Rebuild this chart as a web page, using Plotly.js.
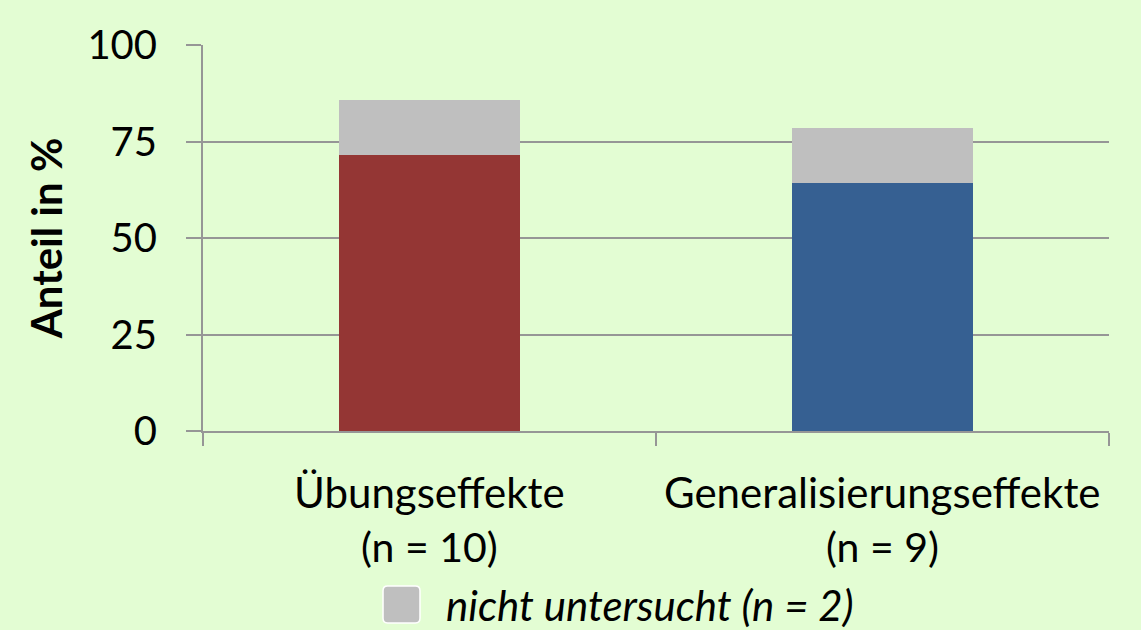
<!DOCTYPE html>
<html>
<head>
<meta charset="utf-8">
<script src="https://cdn.plot.ly/plotly-3.0.1.min.js"></script>
<style>
html,body{margin:0;padding:0;background:#e3fdd3;}
#chart{width:1141px;height:630px;}
</style>
</head>
<body>
<div id="chart"></div>
<script>
// Data
var categories = ["Übungseffekte", "Generalisierungseffekte"];
var sampleSizes = ["(n = 10)", "(n = 9)"];
var untersuchtValues = [71.4, 64.3];
var nichtUntersuchtValues = [14.3, 14.3];
var barColors = ["#943634", "#366092"];
var legendLabel = "nicht untersucht (n = 2)";
var yTickVals = [0, 25, 50, 75, 100];
var yTitle = "Anteil in %";

var FONT = "Lato, 'Open Sans', sans-serif";

var traces = [
  {
    type: "bar",
    x: categories,
    y: untersuchtValues,
    marker: {color: barColors},
    width: 0.4,
    showlegend: false,
    name: "untersucht"
  },
  {
    type: "bar",
    x: categories,
    y: nichtUntersuchtValues,
    marker: {color: "#bfbfbf"},
    width: 0.4,
    showlegend: false,
    name: legendLabel
  }
];

var annotations = [];
categories.forEach(function (c, i) {
  annotations.push({
    x: c, xref: "x", y: -0.158, yref: "paper",
    text: c, showarrow: false, xanchor: "center", yanchor: "middle",
    font: {family: FONT, size: 42, color: "#000"}
  });
  annotations.push({
    x: c, xref: "x", y: -0.3005, yref: "paper",
    text: sampleSizes[i], showarrow: false, xanchor: "center", yanchor: "middle",
    font: {family: FONT, size: 41, color: "#000"}
  });
});
annotations.push({
  x: 0.266, xref: "paper", y: -0.451, yref: "paper",
  text: "<i>" + legendLabel + "</i>", showarrow: false, xanchor: "left", yanchor: "middle",
  font: {family: FONT, size: 42, color: "#000"}
});

// rounded legend swatch (paper coords)
var sx0 = 0.1987, sx1 = 0.2395, sy0 = -0.4016, sy1 = -0.4974, rx = 0.005, ry = 0.012;
var swatchPath = "M " + (sx0 + rx) + "," + sy0 +
  " L " + (sx1 - rx) + "," + sy0 + " Q " + sx1 + "," + sy0 + " " + sx1 + "," + (sy0 - ry) +
  " L " + sx1 + "," + (sy1 + ry) + " Q " + sx1 + "," + sy1 + " " + (sx1 - rx) + "," + sy1 +
  " L " + (sx0 + rx) + "," + sy1 + " Q " + sx0 + "," + sy1 + " " + sx0 + "," + (sy1 + ry) +
  " L " + sx0 + "," + (sy0 - ry) + " Q " + sx0 + "," + sy0 + " " + (sx0 + rx) + "," + sy0 + " Z";

var layout = {
  width: 1141, height: 630,
  paper_bgcolor: "#e3fdd3",
  plot_bgcolor: "#e3fdd3",
  margin: {l: 203, r: 32, t: 45, b: 199, pad: 0},
  barmode: "stack",
  showlegend: false,
  xaxis: {
    type: "category",
    showticklabels: false,
    tickson: "boundaries",
    ticks: "outside", ticklen: 13, tickwidth: 2, tickcolor: "#969696",
    showline: true, linecolor: "#969696", linewidth: 2,
    showgrid: false, zeroline: false
  },
  yaxis: {
    range: [0, 100],
    tickvals: yTickVals,
    ticks: "outside", ticklen: 15, tickwidth: 2, tickcolor: "#969696",
    showline: true, linecolor: "#969696", linewidth: 2,
    showgrid: true, gridcolor: "#969696", gridwidth: 2,
    zeroline: false,
    ticklabelstandoff: 21,
    tickfont: {family: FONT, size: 40, color: "#000"},
    title: {text: "<b>" + yTitle + "</b>", font: {family: FONT, size: 42, color: "#000"}, standoff: 12}
  },
  annotations: annotations,
  shapes: [{
    type: "path", xref: "paper", yref: "paper",
    path: swatchPath,
    fillcolor: "#bfbfbf", line: {color: "#ffffff", width: 1.5}
  }]
};

Plotly.newPlot("chart", traces, layout, {displayModeBar: false, responsive: false});
</script>
</body>
</html>
